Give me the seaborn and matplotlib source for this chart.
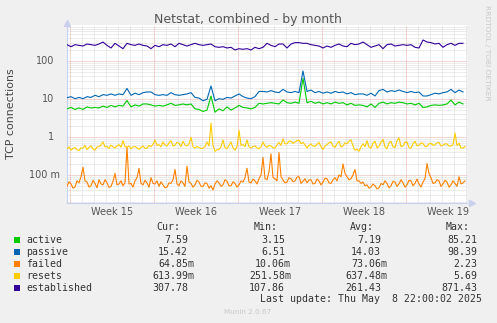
import numpy as np
import pandas as pd
import matplotlib
matplotlib.use("Agg")
import matplotlib.pyplot as plt
import seaborn as sns
from matplotlib.patches import Rectangle
from matplotlib.transforms import blended_transform_factory

# ---- data: 8-hour samples (active, passive, established), 4-hour samples (failed, resets) ----
active = [
    5.5, 6.0, 5.3, 5.8, 5.3, 6.2, 5.8, 6.0, 5.8, 6.5,
    6.0, 6.8, 6.2, 6.8, 6.5, 9.1, 6.2, 7.0, 6.5, 7.4,
    7.4, 7.0, 6.5, 6.8, 6.5, 7.0, 7.7, 6.8, 7.0, 7.4,
    7.0, 7.4, 5.5, 5.3, 4.7, 5.1, 12.0, 4.5, 5.5, 4.9,
    6.2, 5.1, 5.8, 6.8, 6.0, 5.8, 5.5, 6.0, 7.7, 7.4,
    7.7, 8.0, 7.7, 7.4, 9.4, 8.0, 7.7, 8.3, 7.7, 35.0,
    8.0, 8.7, 7.7, 8.3, 7.4, 8.0, 7.4, 8.3, 7.7, 8.0,
    7.0, 7.7, 6.8, 7.0, 6.8, 6.2, 7.4, 6.0, 7.7, 8.3,
    7.4, 8.0, 7.7, 8.3, 8.0, 7.4, 7.7, 7.0, 7.7, 6.0,
    6.2, 6.8, 7.0, 6.8, 7.0, 7.4, 9.4, 7.0, 8.3, 7.4,
]
passive = [
    10.8, 11.5, 10.2, 11.0, 10.2, 11.5, 11.0, 12.5, 11.5, 13.0,
    12.5, 13.6, 12.5, 13.6, 13.0, 18.9, 12.5, 14.2, 13.0, 14.7,
    15.3, 15.3, 13.0, 12.5, 13.0, 12.5, 14.7, 13.0, 12.5, 13.0,
    13.6, 14.7, 11.0, 10.6, 9.0, 9.8, 22.0, 9.0, 10.2, 9.8,
    11.0, 10.6, 12.0, 13.6, 11.5, 10.6, 10.2, 11.5, 15.8, 15.8,
    15.3, 16.6, 15.3, 14.7, 17.9, 15.3, 14.7, 15.8, 14.7, 54.5,
    15.8, 17.2, 14.7, 15.8, 14.2, 15.3, 14.2, 15.8, 14.7, 15.3,
    13.6, 14.7, 13.0, 13.6, 13.6, 12.5, 14.2, 12.0, 16.6, 17.9,
    15.3, 16.6, 15.8, 17.2, 15.8, 14.7, 15.8, 14.7, 15.3, 12.0,
    12.0, 13.0, 14.2, 13.6, 14.7, 15.3, 17.9, 14.7, 17.2, 15.3,
]
failed = [
    0.050, 0.066, 0.058, 0.045, 0.048, 0.070, 0.062, 0.090, 0.16, 0.070,
    0.065, 0.048, 0.052, 0.072, 0.060, 0.046, 0.075, 0.058, 0.055, 0.075,
    0.062, 0.047, 0.050, 0.068, 0.11, 0.055, 0.058, 0.070, 0.052, 0.062,
    0.55, 0.058, 0.060, 0.048, 0.070, 0.085, 0.15, 0.060, 0.055, 0.072,
    0.062, 0.048, 0.085, 0.060, 0.058, 0.070, 0.050, 0.066, 0.055, 0.046,
    0.048, 0.062, 0.060, 0.075, 0.14, 0.058, 0.052, 0.070, 0.062, 0.050,
    0.17, 0.065, 0.060, 0.048, 0.055, 0.072, 0.065, 0.050, 0.050, 0.062,
    0.060, 0.045, 0.052, 0.040, 0.058, 0.070, 0.062, 0.050, 0.055, 0.075,
    0.068, 0.052, 0.052, 0.066, 0.060, 0.048, 0.055, 0.070, 0.065, 0.085,
    0.15, 0.065, 0.062, 0.078, 0.070, 0.058, 0.080, 0.10, 0.29, 0.080,
    0.075, 0.12, 0.36, 0.085, 0.080, 0.070, 0.39, 0.090, 0.075, 0.062,
    0.065, 0.085, 0.080, 0.066, 0.070, 0.088, 0.090, 0.060, 0.068, 0.080,
    0.062, 0.074, 0.075, 0.058, 0.060, 0.078, 0.070, 0.055, 0.065, 0.082,
    0.080, 0.062, 0.060, 0.075, 0.085, 0.070, 0.10, 0.090, 0.195, 0.11,
    0.090, 0.075, 0.080, 0.10, 0.14, 0.070, 0.070, 0.060, 0.065, 0.052,
    0.055, 0.045, 0.048, 0.058, 0.052, 0.043, 0.046, 0.060, 0.055, 0.070,
    0.060, 0.046, 0.052, 0.068, 0.065, 0.050, 0.058, 0.075, 0.062, 0.048,
    0.055, 0.072, 0.070, 0.052, 0.060, 0.078, 0.058, 0.048, 0.065, 0.080,
    0.20, 0.11, 0.085, 0.060, 0.062, 0.075, 0.070, 0.050, 0.058, 0.072,
    0.065, 0.048, 0.055, 0.070, 0.060, 0.050, 0.09, 0.058, 0.062, 0.070,
]
resets = [
    0.49, 0.55, 0.45, 0.50, 0.53, 0.46, 0.44, 0.52, 0.51, 0.60,
    0.47, 0.53, 0.58, 0.48, 0.45, 0.55, 0.56, 0.62, 0.74, 0.55,
    0.56, 0.50, 0.61, 0.55, 0.51, 0.58, 0.63, 0.54, 0.80, 0.56,
    0.53, 0.58, 0.49, 0.55, 0.56, 0.52, 0.47, 0.53, 0.58, 0.50,
    0.51, 0.60, 0.56, 0.64, 0.83, 0.60, 0.63, 0.55, 0.74, 0.62,
    0.58, 0.70, 0.80, 0.58, 0.61, 0.72, 0.68, 0.56, 0.77, 0.62,
    0.58, 0.66, 0.98, 0.55, 0.51, 0.56, 0.53, 0.50, 0.51, 0.56,
    0.74, 0.58, 2.33, 0.60, 0.42, 0.46, 0.47, 0.55, 0.83, 0.52,
    0.49, 0.60, 0.74, 0.52, 0.45, 0.55, 1.50, 0.60, 0.63, 0.56,
    0.83, 0.55, 0.51, 0.56, 0.58, 0.52, 0.49, 0.55, 0.74, 0.58,
    0.53, 0.60, 0.58, 0.52, 0.51, 0.62, 0.72, 0.60, 0.89, 0.66,
    0.66, 0.78, 0.77, 0.68, 0.74, 0.80, 0.83, 0.66, 0.72, 0.62,
    0.51, 0.60, 0.66, 0.58, 0.56, 0.64, 0.72, 0.55, 0.47, 0.58,
    0.63, 0.70, 0.74, 0.58, 0.53, 0.66, 0.77, 0.55, 0.58, 0.70,
    0.66, 0.78, 0.83, 0.58, 0.45, 0.48, 0.42, 0.55, 0.66, 0.56,
    0.80, 0.54, 0.51, 0.68, 0.77, 0.52, 0.56, 0.74, 0.86, 0.55,
    0.49, 0.70, 0.77, 0.55, 0.53, 0.80, 0.94, 0.56, 0.58, 0.72,
    0.74, 0.52, 0.51, 0.66, 0.77, 0.58, 0.61, 0.70, 0.68, 0.56,
    0.56, 0.66, 0.68, 0.60, 0.63, 0.70, 0.72, 0.58, 0.61, 0.66,
    0.66, 0.58, 0.58, 0.62, 1.27, 0.60, 0.68, 0.52, 0.51, 0.56,
]
established = [
    269, 238, 269, 258, 248, 280, 269, 258, 280, 316,
    258, 220, 292, 248, 211, 292, 269, 258, 280, 258,
    248, 211, 258, 238, 269, 258, 280, 238, 292, 269,
    248, 269, 292, 269, 258, 269, 280, 238, 229, 238,
    220, 229, 195, 211, 203, 211, 195, 229, 211, 229,
    292, 258, 238, 280, 280, 220, 280, 304, 304, 292,
    292, 269, 258, 248, 220, 248, 229, 258, 280, 248,
    238, 292, 269, 280, 316, 269, 229, 248, 269, 211,
    269, 280, 248, 258, 269, 258, 269, 229, 220, 357,
    316, 304, 280, 292, 229, 269, 292, 258, 292, 292,
]

series_names = ["active", "passive", "failed", "resets", "established"]
series_colors = ["#00CC00", "#0066B3", "#FF8000", "#FFCC00", "#330099"]
series_data = [active, passive, failed, resets, established]
series_step = [8, 8, 4, 4, 8]  # hours between samples

cur_vals = ["7.59", "15.42", "64.85m", "613.99m", "307.78"]
min_vals = ["3.15", "6.51", "10.06m", "251.58m", "107.86"]
avg_vals = ["7.19", "14.03", "73.06m", "637.48m", "261.43"]
max_vals = ["85.21", "98.39", "2.23", "5.69", "871.43"]

week_labels = ["Week 15", "Week 16", "Week 17", "Week 18", "Week 19"]
ytick_vals = [100, 10, 1, 0.1]
ytick_text = ["100", "10", "1", "100 m"]

frames = []
for name, vals, step in zip(series_names, series_data, series_step):
    frames.append(pd.DataFrame({
        "hours": np.arange(len(vals)) * step,
        "value": vals,
        "series": name,
    }))
df = pd.concat(frames, ignore_index=True)

# ---- figure ----
W, H = 497, 323
fig = plt.figure(figsize=(W / 100, H / 100), dpi=100, facecolor="#F0F0F0")
ax = fig.add_axes([67 / W, 1 - 203 / H, 400 / W, 178 / H])
ax.set_facecolor("white")

def fx(px):
    return px / W

def fy(py):
    return 1 - py / H

sns.lineplot(data=df, x="hours", y="value", hue="series",
             hue_order=series_names, palette=dict(zip(series_names, series_colors)),
             legend=False, lw=0.8, estimator=None, sort=False, ax=ax, zorder=3)

ax.set_yscale("log")
ax.set_ylim(0.0183, 886)
ax.set_xlim(0, 800)
ax.set_xlabel("")
ax.set_ylabel("")
ax.set_xticks([])
ax.set_yticks([])
ax.set_yticks([], minor=True)
ax.tick_params(length=0)

# grid: minor dotted grey, major dotted red
dot = (0, (1, 1))
minor_c = "#DADADA"
major_c = "#EBAAAA"
for dec in [0.01, 0.1, 1, 10, 100]:
    for m in range(2, 10):
        v = m * dec
        if 0.0183 < v < 886:
            ax.axhline(v, color=minor_c, lw=0.72, ls=dot, zorder=1)
for v in [0.1, 1, 10, 100]:
    ax.axhline(v, color=major_c, lw=0.72, ls=dot, zorder=1.5)

week_starts = [6 + 168 * i for i in range(5)]
for h in range(6, 800, 24):
    if h not in week_starts:
        ax.axvline(h, color=minor_c, lw=0.72, ls=dot, zorder=1)
for h in week_starts:
    ax.axvline(h, color=major_c, lw=0.72, ls=dot, zorder=1.5)

for side in ["top", "right"]:
    ax.spines[side].set_visible(False)
axis_c = "#C8D0EE"
ax.spines["left"].set_color(axis_c)
ax.spines["bottom"].set_color(axis_c)
ax.spines["left"].set_linewidth(0.8)
ax.spines["bottom"].set_linewidth(0.8)
ax.plot([0], [1.012], marker="^", ms=4, color=axis_c, transform=ax.transAxes, clip_on=False)
ax.plot([1.012], [0], marker=">", ms=4, color=axis_c, transform=ax.transAxes, clip_on=False)

txt_c = "#555555"
# y tick labels
tr = blended_transform_factory(ax.transAxes, ax.transData)
for v, t in zip(ytick_vals, ytick_text):
    xr = (54 - 67) / 400 if not t.endswith("m") else (60 - 67) / 400
    ax.text(xr, v, t, transform=tr, ha="right", va="center", fontsize=7, color=txt_c)

# week labels
for i, lab in enumerate(week_labels):
    ax.text(week_starts[i] + 84, (203 - 212) / 178, lab,
            transform=blended_transform_factory(ax.transData, ax.transAxes),
            ha="center", va="center", fontsize=7, color=txt_c)

fig.text(fx(247.5), fy(19), "Netstat, combined - by month", ha="center", va="center",
         fontsize=9, color="#555555")
fig.text(fx(11), fy(114), "TCP connections", rotation=90, ha="center", va="center",
         fontsize=7.9, color="#444444")
fig.text(fx(487), fy(53), "RRDTOOL / TOBI OETIKER", rotation=270, ha="center", va="center",
         fontsize=5.4, color="#C8C8C8")
fig.text(fx(248), fy(312), "Munin 2.0.67", ha="center", va="center", fontsize=5.2, color="#C8C8C8")

# ---- legend table ----
mono = "DejaVu Sans Mono"
lc = "#333333"
fs = 7.1
cw = 5.95
headers = ["Cur:", "Min:", "Avg:", "Max:"]
head_x = [180, 278, 374, 470]
col_x = [188, 285, 381, 477]
for hx, h in zip(head_x, headers):
    fig.text(fx(hx), fy(227.3), h, ha="right", va="center", family=mono, fontsize=fs, color=lc)

row_y = [240, 252, 263.7, 275.7, 287.7]
for i, name in enumerate(series_names):
    y = row_y[i]
    fig.add_artist(Rectangle((fx(14), fy(y + 3)), 6 / W, 6 / H, transform=fig.transFigure,
                             facecolor=series_colors[i], edgecolor="none"))
    fig.text(fx(26), fy(y), name, ha="left", va="center", family=mono, fontsize=fs, color=lc)
    for cx, vals in zip(col_x, [cur_vals, min_vals, avg_vals, max_vals]):
        s = vals[i]
        xr = cx + (cw if s.endswith("m") else 0)
        fig.text(fx(xr), fy(y), s, ha="right", va="center", family=mono, fontsize=fs, color=lc)

fig.text(fx(482), fy(299.3), "Last update: Thu May  8 22:00:02 2025", ha="right", va="center",
         family=mono, fontsize=fs, color=lc)

fig.savefig("out.png", dpi=100, facecolor=fig.get_facecolor())
